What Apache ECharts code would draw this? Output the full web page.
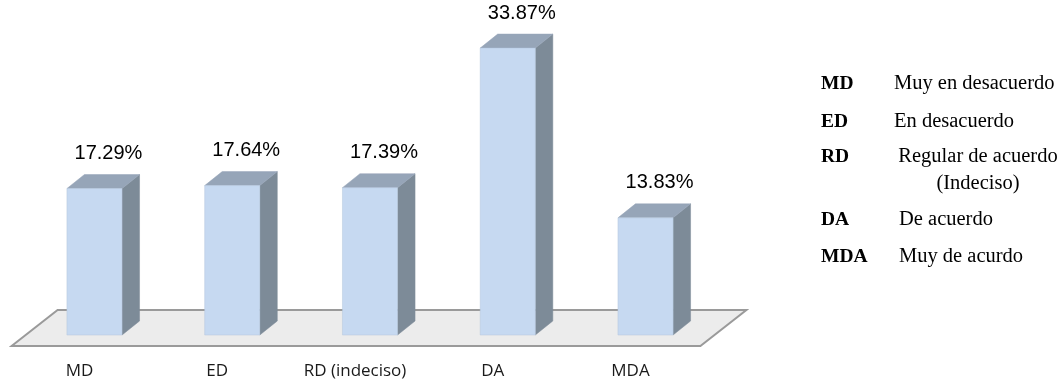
<!DOCTYPE html>
<html>
<head>
<meta charset="utf-8">
<script src="https://cdn.jsdelivr.net/npm/echarts@6/dist/echarts.min.js"></script>
<style>
  html, body { margin: 0; padding: 0; background: #ffffff; }
  #chart { width: 1061px; height: 383px; }
</style>
</head>
<body>
<div id="chart"></div>
<script>
// Response categories and their share of answers (%)
const categories = ['MD', 'ED', 'RD (indeciso)', 'DA', 'MDA'];
const percentages = [17.29, 17.64, 17.39, 33.87, 13.83];

// Key of abbreviations shown at the right
const keyCodes = ['MD', 'ED', 'RD', 'DA', 'MDA'];
const keyTexts = ['Muy en desacuerdo', 'En desacuerdo', 'Regular de acuerdo\n(Indeciso)', 'De acuerdo', 'Muy de acurdo'];

// 3D look: depth offset of the bar tops/sides and the floor
const DEPTH_X = 17.5, DEPTH_Y = -14;
const BAR_RATIO = 0.4;
const COLORS = { front: '#c6d9f1', top: '#96a5b8', side: '#7d8b98' };

const chart = echarts.init(document.getElementById('chart'), null, { renderer: 'canvas' });

function renderFloor(params, api) {
  const cs = params.coordSys;
  const y0 = api.coord([0, 0])[1];
  const left = cs.x, right = cs.x + cs.width;
  return {
    type: 'polygon',
    shape: { points: [
      [left - 14, y0 + 11],
      [left + 32, y0 - 25],
      [right + 32, y0 - 25],
      [right - 14, y0 + 11]
    ] },
    style: { fill: '#ececec', stroke: '#9a9a9a', lineWidth: 2 }
  };
}

function renderBar(params, api) {
  const idx = api.value(0);
  const val = api.value(1);
  const base = api.coord([idx, 0]);
  const top = api.coord([idx, val]);
  const w = api.size([1, 0])[0] * BAR_RATIO;
  const x0 = base[0] - w / 2, x1 = base[0] + w / 2;
  const yt = top[1], yb = base[1];
  return {
    type: 'group',
    children: [
      { type: 'polygon',
        shape: { points: [[x1, yt], [x1 + DEPTH_X, yt + DEPTH_Y], [x1 + DEPTH_X, yb + DEPTH_Y], [x1, yb]] },
        style: { fill: COLORS.side, stroke: COLORS.side, lineWidth: 0.5 } },
      { type: 'polygon',
        shape: { points: [[x0, yt], [x0 + DEPTH_X, yt + DEPTH_Y], [x1 + DEPTH_X, yt + DEPTH_Y], [x1, yt]] },
        style: { fill: COLORS.top, stroke: COLORS.top, lineWidth: 0.5 } },
      { type: 'rect',
        shape: { x: x0, y: yt, width: w, height: yb - yt },
        style: { fill: COLORS.front, stroke: '#b4c6dc', lineWidth: 0.5 } },
      { type: 'text',
        x: base[0] + 14, y: yt - 35,
        style: {
          text: val.toFixed(2) + '%',
          fill: '#000000',
          font: '20px "Liberation Sans", Arial, sans-serif',
          align: 'center', verticalAlign: 'middle'
        } }
    ]
  };
}

// Key entries at the right
const keyGraphics = [];
const keyRowsY = [84, 122, 157, 220, 257];
const KEY_FONT = '20.5px "Liberation Serif", "Times New Roman", serif';
keyCodes.forEach((code, i) => {
  keyGraphics.push({
    type: 'text', x: 821, y: keyRowsY[i],
    style: { text: code, fill: '#000', font: 'bold 19.5px "Liberation Serif", "Times New Roman", serif',
             align: 'left', verticalAlign: 'middle' }
  });
  const lines = keyTexts[i].split('\n');
  if (lines.length === 1) {
    keyGraphics.push({
      type: 'text', x: i >= 3 ? 899 : 894, y: keyRowsY[i],
      style: { text: lines[0], fill: '#000', font: KEY_FONT, align: 'left', verticalAlign: 'middle' }
    });
  } else {
    keyGraphics.push({
      type: 'text', x: 978, y: keyRowsY[i] + 13.5,
      style: { text: keyTexts[i], fill: '#000', font: KEY_FONT,
               align: 'center', verticalAlign: 'middle', lineHeight: 27 }
    });
  }
});

chart.setOption({
  animation: false,
  backgroundColor: '#ffffff',
  grid: { left: 25.6, right: 346.6, top: 38.5, bottom: 48, containLabel: false },
  xAxis: {
    type: 'category',
    data: categories,
    axisLine: { show: false },
    axisTick: { show: false },
    splitLine: { show: false },
    axisLabel: {
      margin: 28,
      color: '#1a1a1a',
      fontFamily: '"Open Sans", "Noto Sans", sans-serif',
      fontSize: 17,
      padding: [0, 30, 0, 0]
    }
  },
  yAxis: {
    type: 'value', min: 0, max: 35,
    show: false,
    splitLine: { show: false }
  },
  graphic: keyGraphics,
  series: [
    { type: 'custom', renderItem: renderFloor, data: [[0]], silent: true, z: 1 },
    { type: 'custom', renderItem: renderBar,
      data: percentages.map((v, i) => [i, v]),
      encode: { x: 0, y: 1 }, z: 2 }
  ]
});
</script>
</body>
</html>
